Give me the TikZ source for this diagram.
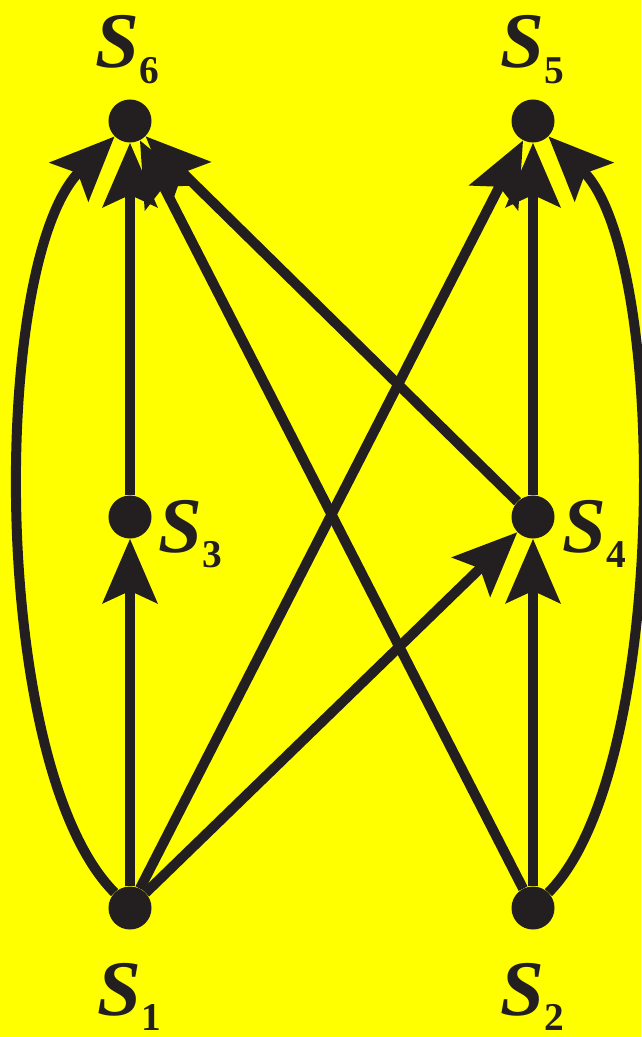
\documentclass[tikz,border=0pt]{standalone}
\usepackage{fontspec}
\setmainfont{Liberation Serif}
\usepackage{xcolor}
\usetikzlibrary{arrows.meta, positioning}

\definecolor{ink}{HTML}{231F20}
\definecolor{bgyellow}{HTML}{FFFF00}
\newcommand{\slab}[1]{\textbf{\textit{S}}\raisebox{-0.38cm}{\fontsize{28}{28}\selectfont\bfseries #1}}

\begin{document}
\begin{tikzpicture}[
        x = 0.025cm, y = -0.025cm,
        state/.style = {circle, fill=ink, minimum size=1.075cm, inner sep=0pt},
        slabel/.style = {anchor=base west, inner sep=0pt, font=\fontsize{56}{56}\selectfont, text=ink},
        arrow/.style = {-{Stealth[length=1.6cm, width=1.35cm, inset=0.3cm]}, line width=0.25cm, draw=ink}
    ]
        % Background
        \fill [bgyellow] (0,0) rectangle (641,1037);
        \useasboundingbox (0,0) rectangle (641,1037);

        % States
        \node [state] (S6) at (130,121) {};
        \node [state] (S5) at (533,121) {};
        \node [state] (S3) at (130,517) {};
        \node [state] (S4) at (533,517) {};
        \node [state] (S1) at (130,908) {};
        \node [state] (S2) at (533,908) {};

        % Labels
        \node [slabel] (L6) at (95,68) {\slab{6}};
        \node [slabel] (L5) at (500,68) {\slab{5}};
        \node [slabel] (L3) at (158,552) {\slab{3}};
        \node [slabel] (L4) at (562,552) {\slab{4}};
        \node [slabel] (L1) at (97,1015) {\slab{1}};
        \node [slabel] (L2) at (500,1015) {\slab{2}};

        % Connections
        \draw [arrow] (S1) to[out=135, in=225, looseness=0.6] (S6);
        \draw [arrow] (S1) -- (S3);
        \draw [arrow] (S3) -- (S6);
        \draw [arrow] (S1) -- (S5);
        \draw [arrow] (S1) -- (S4);
        \draw [arrow] (S2) to[out=45, in=-45, looseness=0.58] (S5);
        \draw [arrow] (S2) -- (S6);
        \draw [arrow] (S2) -- (S4);
        \draw [arrow] (S4) -- (S5);
        \draw [arrow] (S4) -- (S6);

    \end{tikzpicture}
\end{document}
